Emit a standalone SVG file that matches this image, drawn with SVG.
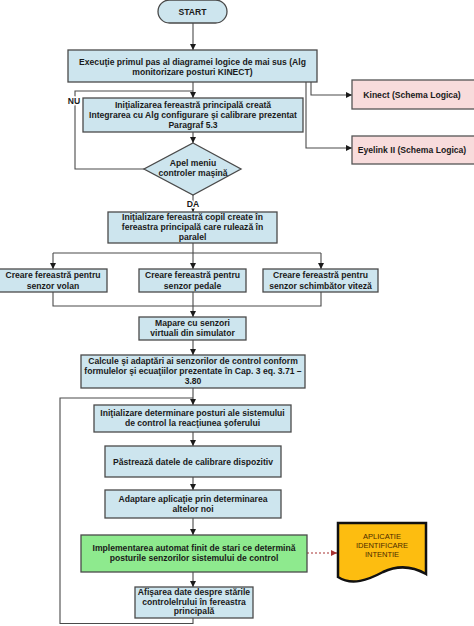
<svg xmlns="http://www.w3.org/2000/svg" width="474" height="626" viewBox="0 0 474 626">
<style>
.box{fill:#cde5ee;stroke:#4a4a4a;stroke-width:1.3}
.pink{fill:#f8dcdc;stroke:#555;stroke-width:1.3}
.green{fill:#8eea8e;stroke:#4a4a4a;stroke-width:1.3}
.doc{fill:#fdbd10;stroke:#111;stroke-width:2.5}
.t{font-family:"Liberation Sans",Arial,sans-serif;font-size:8.6px;font-weight:bold;fill:#1a1a1a;text-anchor:middle}
.d{font-family:"Liberation Sans",Arial,sans-serif;font-size:7.5px;fill:#4a2a00;text-anchor:middle}
.ln{fill:none;stroke:#4a4a4a;stroke-width:1.1}
.dot{fill:none;stroke:#a83232;stroke-width:1.2;stroke-dasharray:2,2}
</style>
<defs>
<marker id="ah" markerUnits="userSpaceOnUse" markerWidth="7" markerHeight="7" refX="6" refY="3" orient="auto"><path d="M0,0 L6,3 L0,6 z" fill="#1a1a1a"/></marker>
<marker id="ahr" markerUnits="userSpaceOnUse" markerWidth="7" markerHeight="7" refX="6" refY="3" orient="auto"><path d="M0,0 L6,3 L0,6 z" fill="#a83232"/></marker>
</defs>
<rect width="474" height="626" fill="#fff"/>
<g id="connectors">
<path class="ln" d="M193,23 V50" marker-end="url(#ah)"/>
<path class="ln" d="M193,82 V98" marker-end="url(#ah)"/>
<path class="ln" d="M311,82 V95 H352" marker-end="url(#ah)"/>
<path class="ln" d="M306,82 V148 H352" marker-end="url(#ah)"/>
<path class="ln" d="M193,132 V143" marker-end="url(#ah)"/>
<path class="ln" d="M144,169 H75 V91 H193"/>
<path class="ln" d="M193,195 V212" marker-end="url(#ah)"/>
<path class="ln" d="M193,243 V253 M53,253 H321"/>
<path class="ln" d="M53,253 V269" marker-end="url(#ah)"/>
<path class="ln" d="M193,253 V269" marker-end="url(#ah)"/>
<path class="ln" d="M321,253 V269" marker-end="url(#ah)"/>
<path class="ln" d="M53,292 V306 H321 V292 M193,292 V306"/>
<path class="ln" d="M193,306 V317" marker-end="url(#ah)"/>
<path class="ln" d="M193,340 V355" marker-end="url(#ah)"/>
<path class="ln" d="M193,388 V405" marker-end="url(#ah)"/>
<path class="ln" d="M193,432 V446" marker-end="url(#ah)"/>
<path class="ln" d="M193,477 V490" marker-end="url(#ah)"/>
<path class="ln" d="M193,518 V535" marker-end="url(#ah)"/>
<path class="ln" d="M193,572 V587" marker-end="url(#ah)"/>
<path class="ln" d="M193,618 V623.5 H60 V398 H193" stroke="#666"/>
<path class="dot" d="M307,553 H337" marker-end="url(#ahr)"/>
<text class="t" x="74" y="104" stroke="#fff" stroke-width="3" paint-order="stroke">NU</text>
<text class="t" x="193" y="207" stroke="#fff" stroke-width="3" paint-order="stroke">DA</text>
</g>
<g id="start"><rect x="158" y="0" width="69" height="23" rx="11.5" class="box"/><text class="t" x="192.5" y="15">START</text></g>
<g id="executie"><rect x="68" y="50" width="249" height="32" class="box"/><text class="t" x="192.5" y="64.5">Execuţie primul pas al diagramei logice de mai sus (Alg</text><text class="t" x="192.5" y="74.5">monitorizare posturi KINECT)</text></g>
<g id="kinect"><rect x="352" y="80" width="124" height="29" class="pink"/><text class="t" x="412" y="98">Kinect (Schema Logica)</text></g>
<g id="eyelink"><rect x="352" y="136" width="124" height="28" class="pink"/><text class="t" x="412" y="153">Eyelink II (Schema Logica)</text></g>
<g id="init-principala"><rect x="83" y="98" width="220" height="34" class="box"/><text class="t" x="193" y="108">Iniţializarea fereastră principală creată</text><text class="t" x="193" y="118">Integrarea cu Alg configurare şi calibrare prezentat</text><text class="t" x="193" y="127.5">Paragraf 5.3</text></g>
<g id="apel-meniu"><path d="M193,143 L241,169 L193,195 L144,169 Z" class="box"/><text class="t" x="193" y="166">Apel meniu</text><text class="t" x="193" y="176">controler maşină</text></g>
<g id="init-copil"><rect x="108" y="212" width="169" height="31" class="box"/><text class="t" x="192.5" y="220">Iniţializare fereastră copil create în</text><text class="t" x="192.5" y="230">fereastra principală care rulează în</text><text class="t" x="192.5" y="240">paralel</text></g>
<g id="volan"><rect x="-1" y="269" width="108" height="23" class="box"/><text class="t" x="53" y="278">Creare fereastră pentru</text><text class="t" x="53" y="288.5">senzor volan</text></g>
<g id="pedale"><rect x="139" y="269" width="107" height="23" class="box"/><text class="t" x="192.5" y="278">Creare fereastră pentru</text><text class="t" x="192.5" y="288.5">senzor pedale</text></g>
<g id="viteza"><rect x="263" y="269" width="115" height="23" class="box"/><text class="t" x="320.5" y="278">Creare fereastră pentru</text><text class="t" x="320.5" y="288.5">senzor schimbător viteză</text></g>
<g id="mapare"><rect x="139" y="317" width="107" height="23" class="box"/><text class="t" x="192.5" y="326">Mapare cu senzori</text><text class="t" x="192.5" y="336">virtuali din simulator</text></g>
<g id="calcule"><rect x="81" y="355" width="224" height="33" class="box"/><text class="t" x="193" y="364">Calcule şi adaptări ai senzorilor de control conform</text><text class="t" x="193" y="374">formulelor şi ecuaţiilor prezentate în Cap. 3 eq. 3.71 –</text><text class="t" x="193" y="384">3.80</text></g>
<g id="init-determinare"><rect x="94" y="405" width="197" height="27" class="box"/><text class="t" x="192.5" y="416">Iniţializare determinare posturi ale sistemului</text><text class="t" x="192.5" y="426">de control la reacţiunea şoferului</text></g>
<g id="pastreaza"><rect x="105" y="446" width="176" height="31" class="box"/><text class="t" x="193" y="465">Păstrează datele de calibrare  dispozitiv</text></g>
<g id="adaptare"><rect x="105" y="490" width="176" height="28" class="box"/><text class="t" x="193" y="502">Adaptare aplicaţie prin determinarea</text><text class="t" x="193" y="512">altelor noi</text></g>
<g id="implementare"><rect x="81" y="535" width="226" height="37" class="green"/><text class="t" x="194" y="551">Implementarea automat finit de stari ce determină</text><text class="t" x="194" y="561">posturile senzorilor sistemului de control</text></g>
<g id="aplicatie"><path class="doc" d="M338,523 H426 V574 C412,566 398,565 383,572 C368,580 352,586 338,577 Z"/><text class="d" x="382" y="539">APLICATIE</text><text class="d" x="382" y="548">IDENTIFICARE</text><text class="d" x="382" y="557">INTENTIE</text></g>
<g id="afisarea"><rect x="135" y="587" width="118" height="31" class="box"/><text class="t" x="194" y="595">Afişarea date despre stările</text><text class="t" x="194" y="604.5">controlelrului  în fereastra</text><text class="t" x="194" y="614">principală</text></g>
</svg>
